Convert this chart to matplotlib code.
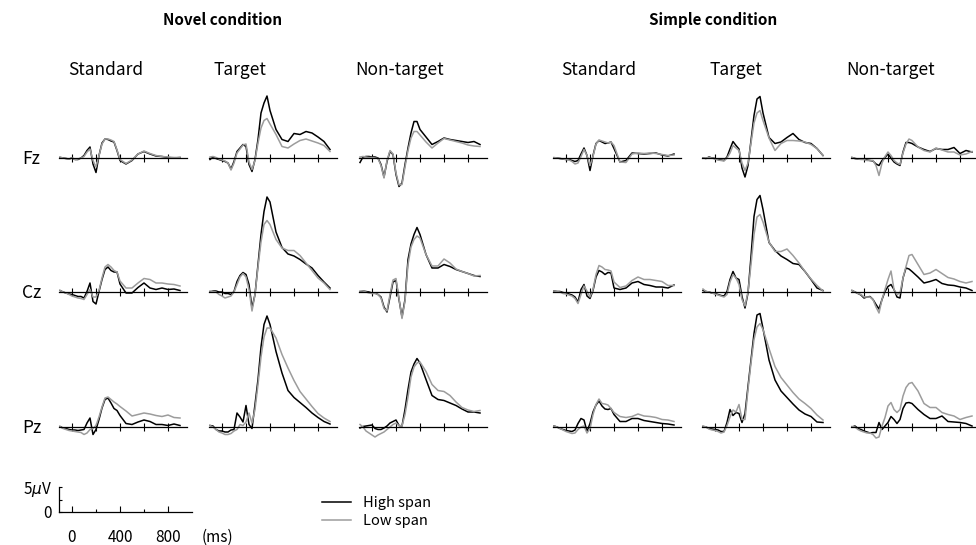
import matplotlib
matplotlib.use("Agg")
import matplotlib.pyplot as plt

plt.rcParams['font.family'] = ['Noto Sans CJK JP', 'DejaVu Sans']

# sampling times of the grand averages (ms after stimulus onset)
times = [-100, -75, -50, -25, 0, 25, 50, 75, 100, 125, 150, 175, 200, 225, 250,
         275, 300, 325, 350, 375, 400, 450, 500, 550, 600, 650, 700, 750, 800, 850, 900]

# amplitudes in microvolts (high span / low span groups)
# Novel condition
novel_std_fz_high = [0.1, 0, -0.1, -0.2, 0, -0.3, -0.3, 0, 0.5, 1.5, 2.2, -1.2, -2.9, 0.5, 3.0, 3.8, 3.7, 3.4, 3.2, 1.5, -0.5,
                     -1.2, -0.5, 0.8, 1.3, 0.8, 0.4, 0.3, 0.1, 0, 0.1]
novel_std_fz_low = [0.2, 0, -0.1, -0.2, 0, -0.3, -0.2, 0, 0.3, 1.2, 1.8, -0.5, -1.8, 0.5, 2.8, 3.8, 3.8, 3.6, 3.3, 1.6, -0.3,
                    -1.1, -0.4, 0.8, 1.4, 0.9, 0.5, 0.3, 0.2, 0.1, 0.1]
novel_tgt_fz_high = [-0.3, 0.2, -0.1, -0.3, -0.5, -0.7, -1.0, -2.2, -0.7, 1.3, 2.0, 2.7, 2.3, -1.3, -2.7, -0.3, 3.7, 9.0, 11.0, 12.4, 9.5,
                     5.7, 3.7, 3.3, 4.9, 4.7, 5.3, 5.0, 4.2, 3.3, 1.7]
novel_tgt_fz_low = [0.2, 0.3, 0.1, -0.2, -0.4, -0.6, -1.0, -2.4, -1.0, 1.0, 1.8, 2.6, 2.8, -0.8, -2.3, -0.5, 3.0, 6.0, 7.5, 7.9, 6.8,
                    4.7, 2.3, 2.0, 2.8, 3.5, 3.8, 3.4, 3.0, 2.5, 1.3]
novel_non_fz_high = [-0.9, 0.2, 0.3, 0.3, 0.2, 0.2, 0, -1.3, -3.8, -0.7, 1.3, 0.7, -3.3, -5.7, -5.0, -1.3, 2.0, 5.0, 7.3, 7.3, 5.7,
                     4.2, 2.7, 3.3, 4.0, 3.7, 3.5, 3.3, 3.1, 3.3, 2.7]
novel_non_fz_low = [0.2, 0.3, 0.2, 0.1, 0.1, 0, -0.1, -1.5, -4.0, -0.5, 1.5, 0.8, -3.0, -5.4, -5.3, -1.8, 1.5, 4.0, 5.3, 5.3, 4.6,
                    3.2, 2.0, 3.0, 3.9, 3.6, 3.3, 3.0, 2.6, 2.4, 2.3]
novel_std_cz_high = [0.3, 0, -0.2, -0.4, -0.5, -0.7, -0.9, -0.9, -1.2, 0.1, 1.8, -1.9, -2.4, 0.1, 2.5, 4.5, 5.0, 4.3, 4.0, 4.0, 1.6,
                     -0.2, -0.2, 0.9, 1.8, 0.8, 0.5, 0.8, 0.5, 0.6, 0.3]
novel_std_cz_low = [0.3, 0, -0.2, -0.5, -0.8, -1.0, -1.2, -1.3, -1.5, -0.5, 0.5, -1.0, -1.0, 0.3, 2.8, 5.0, 5.5, 5.0, 4.3, 4.0, 2.2,
                    0.8, 0.8, 1.8, 2.7, 2.5, 1.8, 1.8, 1.6, 1.5, 1.2]
novel_tgt_cz_high = [0, 0.2, 0.2, 0, 0, -0.3, -0.3, -0.5, 0.1, 2.1, 3.3, 3.9, 3.5, 1.5, -3.2, -0.5, 5.5, 11.5, 16.1, 19.0, 18.0,
                     12.0, 8.9, 7.6, 7.2, 6.5, 5.6, 4.8, 3.3, 2.0, 0.8]
novel_tgt_cz_low = [0.2, 0.1, 0, -0.5, -0.8, -1.2, -1.0, -0.8, 0, 1.5, 3.0, 3.7, 3.0, 0.5, -3.8, -0.5, 5.0, 10.0, 13.5, 14.3, 13.5,
                    10.5, 8.8, 8.3, 8.3, 7.3, 5.8, 4.3, 2.8, 1.8, 0.5]
novel_non_cz_high = [0, 0.2, 0.1, 0, -0.2, -0.2, -0.5, -1.0, -3.0, -4.0, -1.0, 2.0, 2.3, -1.5, -5.0, -1.5, 6.5, 9.6, 11.5, 12.9, 11.5,
                     7.5, 4.8, 4.8, 5.5, 5.1, 4.5, 4.1, 3.7, 3.3, 3.1]
novel_non_cz_low = [0.2, 0.2, 0, -0.2, -0.3, -0.3, -0.5, -1.2, -3.3, -3.8, -0.5, 2.4, 2.7, -1.3, -5.3, -1.8, 5.5, 9.0, 10.5, 11.2, 10.8,
                    7.5, 5.2, 5.2, 6.6, 5.8, 4.6, 4.1, 3.7, 3.2, 3.3]
novel_std_pz_high = [0.1, -0.2, -0.3, -0.5, -0.6, -0.6, -0.7, -0.6, -0.5, 0.8, 1.8, -1.5, -0.5, 1.5, 3.8, 5.5, 5.8, 4.8, 3.7, 3.3, 2.3,
                     0.7, 0.5, 1.0, 1.4, 1.1, 0.5, 0.5, 0.3, 0.6, 0.3]
novel_std_pz_low = [0.1, -0.3, -0.5, -0.7, -0.8, -0.9, -1.0, -1.1, -1.5, -1.2, -0.5, -0.3, 0.3, 2.0, 4.0, 5.8, 6.0, 5.5, 5.0, 4.6, 4.1,
                    3.2, 2.2, 2.5, 2.8, 2.6, 2.3, 2.1, 2.4, 1.9, 1.8]
novel_tgt_pz_high = [0.3, 0.2, -0.5, -0.8, -0.8, -1.0, -1.0, -0.6, -0.5, 2.8, 2.0, 1.0, 4.3, 0.5, -0.3, 4.5, 9.5, 16.0, 20.5, 22.2, 20.5,
                     15.1, 10.8, 7.3, 5.9, 4.9, 3.9, 2.8, 1.9, 1.1, 0.6]
novel_tgt_pz_low = [0.3, 0, -0.5, -1.0, -1.2, -1.5, -1.5, -1.3, -0.8, -0.5, 0.5, 0.3, 1.0, 2.8, 0.8, 3.5, 8.5, 14.0, 18.0, 19.8, 19.8,
                    17.8, 14.5, 11.8, 9.3, 7.1, 5.6, 4.1, 2.7, 1.8, 1.1]
novel_non_pz_high = [-0.2, 0.1, 0.2, 0.3, 0.4, -0.3, -0.5, -0.5, -0.2, 0.2, 0.8, 1.1, 1.4, 0.3, 0.2, 3.5, 7.5, 11.0, 12.6, 13.7, 12.8,
                     9.5, 6.3, 5.5, 5.3, 4.8, 4.3, 3.6, 3.0, 3.0, 2.8]
novel_non_pz_low = [0.5, 0, -0.8, -1.2, -1.6, -2.0, -1.6, -1.3, -1.0, -0.5, 0, 0.5, 0.8, 0.3, 0.2, 2.5, 6.0, 10.0, 12.0, 12.8, 13.0,
                    11.1, 8.5, 7.3, 7.1, 6.3, 5.0, 3.9, 3.4, 3.1, 3.3]

# Simple condition
simple_std_fz_high = [0, 0, -0.1, -0.2, -0.3, -0.3, -0.5, -0.7, -0.5, 0.8, 2.0, 0.5, -2.5, 0.5, 2.9, 3.5, 3.2, 2.9, 3.0, 3.2, 1.9,
                      -0.8, -0.5, 1.0, 0.9, 0.8, 0.9, 1.0, 0.6, 0.4, 0.8]
simple_std_fz_low = [0.1, 0, -0.1, -0.2, -0.3, -0.4, -0.7, -1.2, -1.0, 0.3, 1.7, 0.5, -1.5, 0.3, 2.8, 3.6, 3.4, 3.2, 3.0, 3.2, 2.5,
                     -0.8, -0.9, 0.8, 1.0, 0.9, 1.0, 0.9, 0.7, 0.5, 0.6]
simple_tgt_fz_high = [0, -0.1, 0.2, 0, -0.1, -0.3, -0.4, -0.5, 0.2, 1.8, 3.3, 2.5, 1.8, -2.0, -3.8, -1.5, 3.5, 8.5, 11.8, 12.3, 9.0,
                      4.1, 2.9, 3.2, 4.1, 4.9, 3.7, 3.1, 2.9, 1.9, 0.5]
simple_tgt_fz_low = [0, 0, 0.1, 0, -0.2, -0.4, -0.5, -0.6, 0, 1.0, 2.5, 2.0, 1.5, -1.0, -2.5, -1.0, 3.0, 7.0, 9.0, 9.5, 7.5,
                     4.0, 1.5, 2.9, 3.5, 3.5, 3.4, 3.2, 2.7, 1.9, 0.5]
simple_non_fz_high = [0.1, -0.1, -0.2, -0.2, -0.2, -0.4, -0.5, -0.6, -1.2, -1.5, -0.5, 0.1, 0.8, 0, -0.8, -1.2, -1.5, 1.2, 3.1, 3.1, 2.9,
                      2.2, 1.7, 1.3, 1.9, 1.7, 1.7, 2.1, 0.9, 1.5, 1.2]
simple_non_fz_low = [0.1, -0.1, -0.2, -0.3, -0.3, -0.5, -0.5, -0.5, -1.5, -3.5, -1.0, 0.3, 1.2, 0.5, -0.5, -1.0, -1.3, 1.0, 2.8, 3.8, 3.5,
                     2.2, 1.5, 1.2, 2.0, 1.6, 1.2, 1.2, 0.6, 0.8, 1.3]
simple_std_cz_high = [0.2, 0.1, 0.1, -0.1, -0.2, -0.4, -0.6, -1.0, -2.0, 0.5, 1.5, -0.8, -1.3, 0.3, 3.0, 4.3, 4.0, 3.5, 3.9, 3.8, 0.8,
                      0.5, 0.8, 1.8, 2.1, 1.5, 1.3, 1.0, 1.0, 0.8, 1.4]
simple_std_cz_low = [0.2, 0.1, 0, -0.3, -0.4, -0.6, -0.8, -1.3, -2.3, -0.5, 1.2, 0.2, -1.0, 0.5, 3.5, 5.3, 5.0, 4.5, 4.4, 4.2, 2.0,
                     0.9, 1.2, 2.3, 3.0, 2.5, 2.5, 2.3, 2.1, 1.3, 1.3]
simple_tgt_cz_high = [0.3, 0.1, 0, -0.2, -0.3, -0.5, -0.7, -0.8, 0.1, 2.5, 4.1, 2.8, 2.5, -0.9, -3.2, -0.2, 7.1, 15.1, 18.5, 19.3, 16.5,
                      9.9, 8.3, 7.2, 6.5, 5.7, 5.5, 4.1, 2.5, 0.8, 0.3]
simple_tgt_cz_low = [0.6, 0.1, 0, -0.2, -0.4, -0.6, -0.8, -1.0, -0.5, 2.0, 3.5, 2.8, 1.5, -1.5, -2.8, 0, 5.5, 11.5, 15.0, 15.5, 14.0,
                     10.0, 8.1, 8.1, 8.6, 7.3, 5.8, 4.1, 2.6, 1.3, 0.2]
simple_non_cz_high = [0.3, 0, -0.3, -0.6, -1.2, -1.0, -0.9, -1.5, -2.5, -3.4, -1.5, 0.1, 1.1, 1.5, 0.5, -1.0, -1.2, 2.8, 4.8, 4.6, 4.1,
                      3.0, 1.8, 2.1, 2.5, 1.7, 1.4, 1.3, 1.0, 0.8, 0.3]
simple_non_cz_low = [0.3, 0, -0.3, -0.5, -1.0, -1.0, -1.0, -1.5, -3.0, -4.2, -1.5, 0.5, 2.5, 4.2, 0.5, -0.5, -0.2, 2.8, 5.1, 7.3, 7.5,
                     5.5, 3.5, 3.8, 4.5, 3.7, 2.9, 2.6, 2.1, 1.8, 2.1]
simple_std_pz_high = [0.2, 0, -0.3, -0.5, -0.7, -0.8, -0.9, -0.6, 0.7, 1.7, 1.4, -0.9, 0.7, 3.0, 4.4, 5.2, 4.2, 3.6, 3.5, 3.7, 2.5,
                      1.1, 1.1, 1.7, 1.7, 1.3, 1.1, 0.9, 0.7, 0.6, 0.4]
simple_std_pz_low = [0.2, 0, -0.3, -0.6, -0.9, -1.1, -1.3, -1.2, -0.5, 0, 0.2, -1.2, -0.3, 2.5, 4.5, 5.6, 4.7, 4.6, 4.4, 3.7, 2.9,
                     2.1, 1.9, 2.1, 2.6, 2.2, 2.1, 1.9, 1.5, 1.4, 1.1]
simple_tgt_pz_high = [0.1, 0, -0.3, -0.4, -0.5, -0.6, -0.9, -0.9, 0.9, 3.5, 2.3, 2.9, 2.7, 0.9, 2.7, 8.1, 13.4, 18.7, 22.4, 22.7, 19.7,
                      13.4, 9.4, 7.2, 5.9, 4.6, 3.4, 2.6, 2.1, 1.0, 0.9]
simple_tgt_pz_low = [0.2, 0, -0.4, -0.6, -0.7, -0.9, -1.2, -1.0, 0.3, 2.0, 3.4, 3.0, 4.5, 1.5, 1.5, 7.5, 12.8, 17.5, 20.0, 20.7, 19.5,
                     15.7, 12.1, 9.9, 8.4, 6.9, 5.6, 4.7, 3.7, 2.4, 1.4]
simple_non_pz_high = [0, 0.2, -0.3, -0.5, -0.8, -1.0, -1.2, -1.1, -1.1, 0.9, -0.5, 0.2, 0.9, 2.1, 1.5, 0.7, 1.5, 3.7, 4.8, 4.9, 4.7,
                      3.5, 2.5, 1.7, 1.7, 2.2, 1.1, 1.0, 0.9, 0.7, 0.2]
simple_non_pz_low = [0.1, 0, -0.5, -0.8, -1.0, -1.2, -1.2, -1.5, -2.2, -2.0, 0.2, 1.9, 4.2, 4.9, 3.5, 2.9, 3.5, 6.2, 7.9, 8.7, 8.9,
                     7.2, 4.7, 3.9, 3.9, 2.9, 2.5, 2.2, 1.5, 1.9, 2.2]

conditions = ["Novel condition", "Simple condition"]
stimuli = ["Standard", "Target", "Non-target"]
electrodes = ["Fz", "Cz", "Pz"]
group_labels = ["High span", "Low span"]

waves = {
    ("Novel condition", "Standard", "Fz"): (novel_std_fz_high, novel_std_fz_low),
    ("Novel condition", "Target", "Fz"): (novel_tgt_fz_high, novel_tgt_fz_low),
    ("Novel condition", "Non-target", "Fz"): (novel_non_fz_high, novel_non_fz_low),
    ("Novel condition", "Standard", "Cz"): (novel_std_cz_high, novel_std_cz_low),
    ("Novel condition", "Target", "Cz"): (novel_tgt_cz_high, novel_tgt_cz_low),
    ("Novel condition", "Non-target", "Cz"): (novel_non_cz_high, novel_non_cz_low),
    ("Novel condition", "Standard", "Pz"): (novel_std_pz_high, novel_std_pz_low),
    ("Novel condition", "Target", "Pz"): (novel_tgt_pz_high, novel_tgt_pz_low),
    ("Novel condition", "Non-target", "Pz"): (novel_non_pz_high, novel_non_pz_low),
    ("Simple condition", "Standard", "Fz"): (simple_std_fz_high, simple_std_fz_low),
    ("Simple condition", "Target", "Fz"): (simple_tgt_fz_high, simple_tgt_fz_low),
    ("Simple condition", "Non-target", "Fz"): (simple_non_fz_high, simple_non_fz_low),
    ("Simple condition", "Standard", "Cz"): (simple_std_cz_high, simple_std_cz_low),
    ("Simple condition", "Target", "Cz"): (simple_tgt_cz_high, simple_tgt_cz_low),
    ("Simple condition", "Non-target", "Cz"): (simple_non_cz_high, simple_non_cz_low),
    ("Simple condition", "Standard", "Pz"): (simple_std_pz_high, simple_std_pz_low),
    ("Simple condition", "Target", "Pz"): (simple_tgt_pz_high, simple_tgt_pz_low),
    ("Simple condition", "Non-target", "Pz"): (simple_non_pz_high, simple_non_pz_low),
}

# layout, in pixels of the 976x545 figure
W, H = 976, 545
PX_MS = 0.12      # 200 ms = 24 px
PX_UV = 5.0       # 5 uV = 25 px
zero_x = {"Novel condition": [72, 222, 372], "Simple condition": [566, 715, 864]}
zero_y = [158, 292, 427]
header_x = {"Novel condition": [106, 240, 400], "Simple condition": [599, 736, 891]}
title_x = {"Novel condition": 223, "Simple condition": 713}
XLIM = (-108, 955)
YLIM = (-8, 25)
HIGH_COLOR = "black"
LOW_COLOR = "#9c9c9c"


def place_axes(fig, x0, y0, xlim, ylim):
    """Axes whose data origin sits at pixel (x0, y0), y counted from the top."""
    left = x0 + xlim[0] * PX_MS
    top = y0 - ylim[1] * PX_UV
    w = (xlim[1] - xlim[0]) * PX_MS
    h = (ylim[1] - ylim[0]) * PX_UV
    ax = fig.add_axes([left / W, 1 - (top + h) / H, w / W, h / H])
    ax.set_xlim(*xlim)
    ax.set_ylim(*ylim)
    ax.patch.set_visible(False)
    return ax


fig = plt.figure(figsize=(W / 100, H / 100), dpi=100)

lines = None
for cond in conditions:
    for c, stim in enumerate(stimuli):
        for r, elec in enumerate(electrodes):
            high, low = waves[(cond, stim, elec)]
            ax = place_axes(fig, zero_x[cond][c], zero_y[r], XLIM, YLIM)
            for s in ["top", "right", "left"]:
                ax.spines[s].set_visible(False)
            ax.spines["bottom"].set_position(("data", 0))
            ax.spines["bottom"].set_linewidth(0.9)
            ax.set_yticks([])
            ax.set_xticks([0, 200, 400, 600, 800])
            ax.set_xticklabels([])
            ax.tick_params(axis="x", direction="inout", length=6, width=0.8)
            l1, = ax.plot(times, high, color=HIGH_COLOR, lw=1.1)
            l2, = ax.plot(times, low, color=LOW_COLOR, lw=1.1)
            lines = (l1, l2)


def px(x, y):
    return x / W, 1 - y / H


# headers
for cond in conditions:
    fig.text(*px(title_x[cond], 20), cond, ha="center", va="center", fontsize=11, fontweight="bold")
    for c, stim in enumerate(stimuli):
        fig.text(*px(header_x[cond][c], 70), stim, ha="center", va="center", fontsize=12.5)
for r, elec in enumerate(electrodes):
    fig.text(*px(22, zero_y[r] + 1), elec, ha="left", va="center", fontsize=12.5)

# calibration: 5 uV, 0-800 ms
sax = place_axes(fig, 72, 512, (-108, 1000), (0, 5))
sax.spines["top"].set_visible(False)
sax.spines["right"].set_visible(False)
sax.spines["left"].set_linewidth(0.9)
sax.spines["bottom"].set_linewidth(0.9)
sax.set_xticks([0, 400, 800])
sax.set_xticklabels(["0", "400", "800"])
sax.set_xticks([200, 600], minor=True)
sax.set_yticks([0, 5])
sax.set_yticklabels(["0", "5$\\mu$V"])
sax.set_yticks([2.5], minor=True)
sax.tick_params(axis="x", which="major", direction="in", length=4.5, width=0.8, pad=12, labelsize=11)
sax.tick_params(axis="x", which="minor", direction="in", length=2.2, width=0.8)
sax.tick_params(axis="y", which="major", direction="in", length=2.2, width=0.8, pad=5, labelsize=11)
sax.tick_params(axis="y", which="minor", direction="in", length=2.2, width=0.8)
fig.text(*px(217, 537), "(ms)", ha="center", va="center", fontsize=11)

fig.legend(lines, group_labels, loc="center left", bbox_to_anchor=px(322, 512),
           frameon=False, fontsize=10.5, handlelength=2.0, handletextpad=0.8,
           labelspacing=0.3, borderpad=0, borderaxespad=0)

fig.savefig("out.png", dpi=100)
